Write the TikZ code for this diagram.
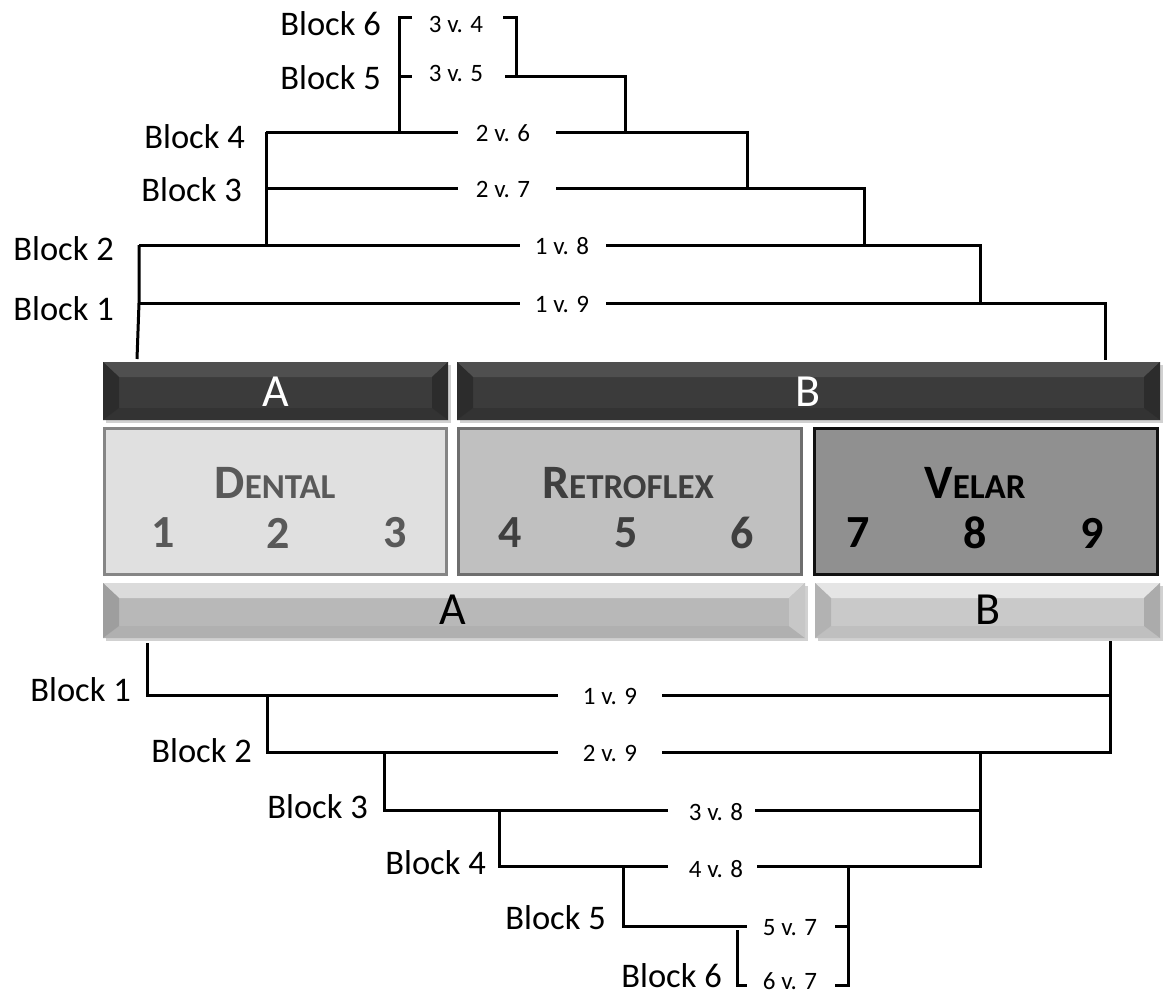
\documentclass[tikz,border=0pt]{standalone}
\usepackage{fontspec}
\setmainfont{Carlito}
\begin{document}
\begin{tikzpicture}[x=1pt,y=-1pt,
  wire/.style={line width=3pt,black,line join=miter},
  blk/.style={font=\fontsize{34.5}{40}\selectfont,inner sep=0pt,anchor=base east},
  cmp/.style={font=\fontsize{25}{30}\selectfont,inner sep=0pt,anchor=base},
  bartxt/.style={font=\fontsize{46}{50}\selectfont,inner sep=0pt},
  numtxt/.style={font=\bfseries\fontsize{46}{50}\selectfont,inner sep=0pt},
  grptxt/.style={font=\bfseries\fontsize{48}{50}\selectfont,inner sep=0pt},
  place/.style={line width=3pt}]
\definecolor{dkface}{HTML}{3B3B3B}
\definecolor{dktop}{HTML}{4F4F4F}
\definecolor{dkside}{HTML}{2C2C2C}
\definecolor{dkbot}{HTML}{333333}
\definecolor{dentfill}{HTML}{E0E0E0}
\definecolor{dentline}{HTML}{858585}
\definecolor{dentink}{HTML}{595959}
\definecolor{retrofill}{HTML}{C0C0C0}
\definecolor{retroline}{HTML}{6E6E6E}
\definecolor{retroink}{HTML}{3F3F3F}
\definecolor{velfill}{HTML}{909090}
\definecolor{velline}{HTML}{111111}
\useasboundingbox (0,0) rectangle (1163,996);
\fill[white] (0,0) rectangle (1163,996);

% bevelled bar: #1..#4 corners, #5 face, #6 top, #7 left, #8 right, #9 bottom
\newcommand{\bevelbar}[9]{%
  \fill[black!18] (#1+3,#2+3) rectangle (#3+3,#4+3);
  \fill[#5] (#1,#2) rectangle (#3,#4);
  \fill[#6] (#1,#2) -- (#3,#2) -- (#3-16,#2+15) -- (#1+16,#2+15) -- cycle;
  \fill[#9] (#1,#4) -- (#3,#4) -- (#3-16,#4-12) -- (#1+16,#4-12) -- cycle;
  \fill[#7] (#1,#2) -- (#1+16,#2+15) -- (#1+16,#4-12) -- (#1,#4) -- cycle;
  \fill[#8] (#3,#2) -- (#3-16,#2+15) -- (#3-16,#4-12) -- (#3,#4) -- cycle;
}

% upper bars
\bevelbar{103}{362}{448}{420}{dkface}{dktop}{dkside}{dkside}{dkbot}
\bevelbar{457}{362}{1160}{420}{dkface}{dktop}{dkside}{dkside}{dkbot}
\node[bartxt,text=white] (barA) at (276,392) {A};
\node[bartxt,text=white] (barB) at (808,392) {B};

% place-of-articulation boxes
\draw[place,draw=dentline,fill=dentfill] (104,428) rectangle (446,574);
\draw[place,draw=retroline,fill=retrofill] (458,428) rectangle (801,574);
\draw[place,draw=velline,fill=velfill] (814,428) rectangle (1157,574);

\node[grptxt,text=dentink] (gD) at (275,483) {D\fontsize{35}{40}\selectfont ENTAL};
\node[grptxt,text=retroink] (gR) at (628,483) {R\fontsize{35}{40}\selectfont ETROFLEX};
\node[grptxt,text=black] (gV) at (975,483) {V\fontsize{35}{40}\selectfont ELAR};

\node[numtxt,text=dentink] (n1) at (163,533) {1};
\node[numtxt,text=dentink] (n2) at (278,533) {2};
\node[numtxt,text=dentink] (n3) at (395,533) {3};
\node[numtxt,text=retroink] (n4) at (510,533) {4};
\node[numtxt,text=retroink] (n5) at (626,533) {5};
\node[numtxt,text=retroink] (n6) at (742,533) {6};
\node[numtxt,text=black] (n7) at (858,533) {7};
\node[numtxt,text=black] (n8) at (975,533) {8};
\node[numtxt,text=black] (n9) at (1092,533) {9};

% lower bars
\bevelbar{103}{583}{805}{638}{black!28}{black!14}{black!38}{black!22}{black!31}
\bevelbar{815}{583}{1160}{638}{black!21}{black!10}{black!30}{black!33}{black!25}
\node[bartxt,text=black] (barA2) at (453,610) {A};
\node[bartxt,text=black] (barB2) at (988,610) {B};

% ---------- upper tree ----------
\node[blk] (u6) at (381,35) {Block 6};
\node[blk] (u5) at (381,89) {Block 5};
\node[blk] (u4) at (245,148) {Block 4};
\node[blk] (u3) at (242,201) {Block 3};
\node[blk] (u2) at (114,260) {Block 2};
\node[blk] (u1) at (114,320) {Block 1};

\node[cmp] (c34) at (456,32) {3 v. 4};
\node[cmp] (c35) at (456,81) {3 v. 5};
\node[cmp] (c26) at (503,141) {2 v. 6};
\node[cmp] (c27) at (503,197) {2 v. 7};
\node[cmp] (c18) at (562,254) {1 v. 8};
\node[cmp] (c19) at (562,312) {1 v. 9};

\coordinate (a6) at (399,17);
\coordinate (a5) at (399,76);
\coordinate (a4) at (399,132);
\coordinate (r34) at (516,17);
\coordinate (r35) at (625,76);
\coordinate (r26) at (747,132);
\coordinate (r27) at (864,188);
\coordinate (r18) at (980,245);
\coordinate (r19) at (1105,303);
\coordinate (b4) at (266,132);
\coordinate (b3) at (266,188);
\coordinate (b2) at (139,245);
\coordinate (b1) at (139,303);
\coordinate (dA) at (137,359);
\coordinate (dB) at (1105,360);

\draw[wire] (412,17) -- (a6) -- (a4);
\draw[wire] (a5) -- (412,76);
\draw[wire] (503,17) -- (r34) -- (516,76);
\draw[wire] (505,76) -- (r35) -- (625,132);
\draw[wire] (b4) -- (458,132);
\draw[wire] (556,132) -- (r26) -- (747,188);
\draw[wire] (b3) -- (458,188);
\draw[wire] (556,188) -- (r27) -- (864,245);
\draw[wire] (b4) -- (266,245);
\draw[wire] (b2) -- (520,245);
\draw[wire] (606,245) -- (r18) -- (980,303);
\draw[wire] (b1) -- (520,303);
\draw[wire] (606,303) -- (r19) -- (dB);
\draw[wire] (b2) -- (b1) -- (dA);

% ---------- lower tree ----------
\node[blk] (l1) at (131,701) {Block 1};
\node[blk] (l2) at (252,762) {Block 2};
\node[blk] (l3) at (368,818) {Block 3};
\node[blk] (l4) at (486,874) {Block 4};
\node[blk] (l5) at (606,929) {Block 5};
\node[blk] (l6) at (722,987) {Block 6};

\node[cmp] (k19) at (610,704) {1 v. 9};
\node[cmp] (k29) at (610,761) {2 v. 9};
\node[cmp] (k38) at (716,820) {3 v. 8};
\node[cmp] (k48) at (716,877) {4 v. 8};
\node[cmp] (k57) at (790,935) {5 v. 7};
\node[cmp] (k67) at (790,989) {6 v. 7};

\coordinate (e1) at (147,643);
\coordinate (f1) at (147,695);
\coordinate (f2) at (267,752);
\coordinate (f3) at (384,810);
\coordinate (f4) at (499,866);
\coordinate (f5) at (623,926);
\coordinate (f6) at (737,985);
\coordinate (g9) at (1110,641);
\coordinate (g8) at (980,752);
\coordinate (g7) at (848,866);

\draw[wire] (e1) -- (f1) -- (558,695);
\draw[wire] (662,695) -- (1110,695);
\draw[wire] (g9) -- (1110,752) -- (662,752);
\draw[wire] (267,695) -- (f2) -- (558,752);
\draw[wire] (384,752) -- (f3) -- (668,810);
\draw[wire] (755,810) -- (980,810);
\draw[wire] (g8) -- (980,866) -- (757,866);
\draw[wire] (499,810) -- (f4) -- (668,866);
\draw[wire] (623,866) -- (f5) -- (747,926);
\draw[wire] (737,930) -- (f6) -- (747,985);
\draw[wire] (835,926) -- (848,926);
\draw[wire] (g7) -- (848,985) -- (835,985);
\end{tikzpicture}
\end{document}
